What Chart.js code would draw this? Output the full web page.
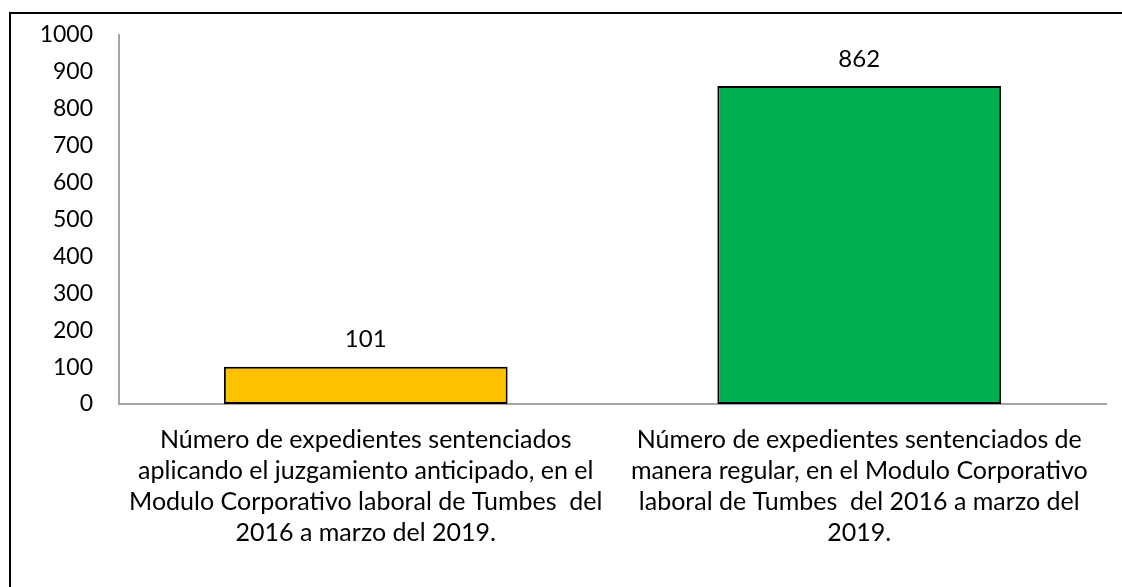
<!DOCTYPE html>
<html>
<head>
<meta charset="utf-8">
<script src="https://cdn.jsdelivr.net/npm/chart.js@4"></script>
<style>
  html, body { margin: 0; padding: 0; background: #fff; }
  #wrap { position: relative; width: 1122px; height: 587px; overflow: hidden; background: #fff; }
  #frame { position: absolute; left: 9px; top: 12px; width: 1200px; height: 700px; border: 2px solid #000; box-sizing: border-box; }
  #c { position: absolute; left: 0; top: 0; }
</style>
</head>
<body>
<div id="wrap">
  <div id="frame"></div>
  <canvas id="c" width="1122" height="587"></canvas>
</div>
<script>
const categories = [
  ["Número de expedientes sentenciados", "aplicando el juzgamiento anticipado, en el", "Modulo Corporativo laboral de Tumbes  del", "2016 a marzo del 2019."],
  ["Número de expedientes sentenciados de", "manera regular, en el Modulo Corporativo", "laboral de Tumbes  del 2016 a marzo del", "2019."]
];
const values = [101, 862];
const barColors = ["#FFC000", "#00B050"];
const yMin = 0, yMax = 1000, yStep = 100;

const FONT = "Lato, 'Noto Sans', sans-serif";

const valueLabels = {
  id: 'valueLabels',
  afterDatasetsDraw(chart) {
    const ctx = chart.ctx;
    const meta = chart.getDatasetMeta(0);
    ctx.save();
    ctx.font = "24px " + FONT;
    ctx.fillStyle = "#000";
    ctx.textAlign = "center";
    ctx.textBaseline = "middle";
    meta.data.forEach((bar, i) => {
      ctx.fillText(String(values[i]), bar.x, bar.y - 27);
    });
    ctx.restore();
  }
};

new Chart(document.getElementById('c'), {
  type: 'bar',
  data: {
    labels: categories,
    datasets: [{
      data: values,
      backgroundColor: barColors,
      borderColor: "#000",
      borderWidth: 2,
      borderSkipped: false,
      categoryPercentage: 0.575,
      barPercentage: 1.0
    }]
  },
  options: {
    responsive: false,
    animation: false,
    devicePixelRatio: 1,
    layout: { padding: { left: 0, right: 16, top: 35, bottom: 0 } },
    plugins: { legend: { display: false }, tooltip: { enabled: false } },
    scales: {
      x: {
        grid: { display: false, drawTicks: false },
        border: { display: true, color: "#a6a6a6", width: 2 },
        ticks: {
          color: "#000",
          font: { family: FONT, size: 25, lineHeight: 1.228 },
          padding: 21,
          maxRotation: 0,
          autoSkip: false
        },
        afterFit(scale) { scale.height = 183; }
      },
      y: {
        min: yMin, max: yMax,
        grid: { display: false, drawTicks: false },
        border: { display: true, color: "#a6a6a6", width: 2 },
        ticks: {
          stepSize: yStep,
          color: "#000",
          font: { family: FONT, size: 23, lineHeight: 0.6 },
          padding: 26,
          callback: (v) => String(v)
        },
        afterFit(scale) { scale.width = 119; }
      }
    }
  },
  plugins: [valueLabels]
});
</script>
</body>
</html>
